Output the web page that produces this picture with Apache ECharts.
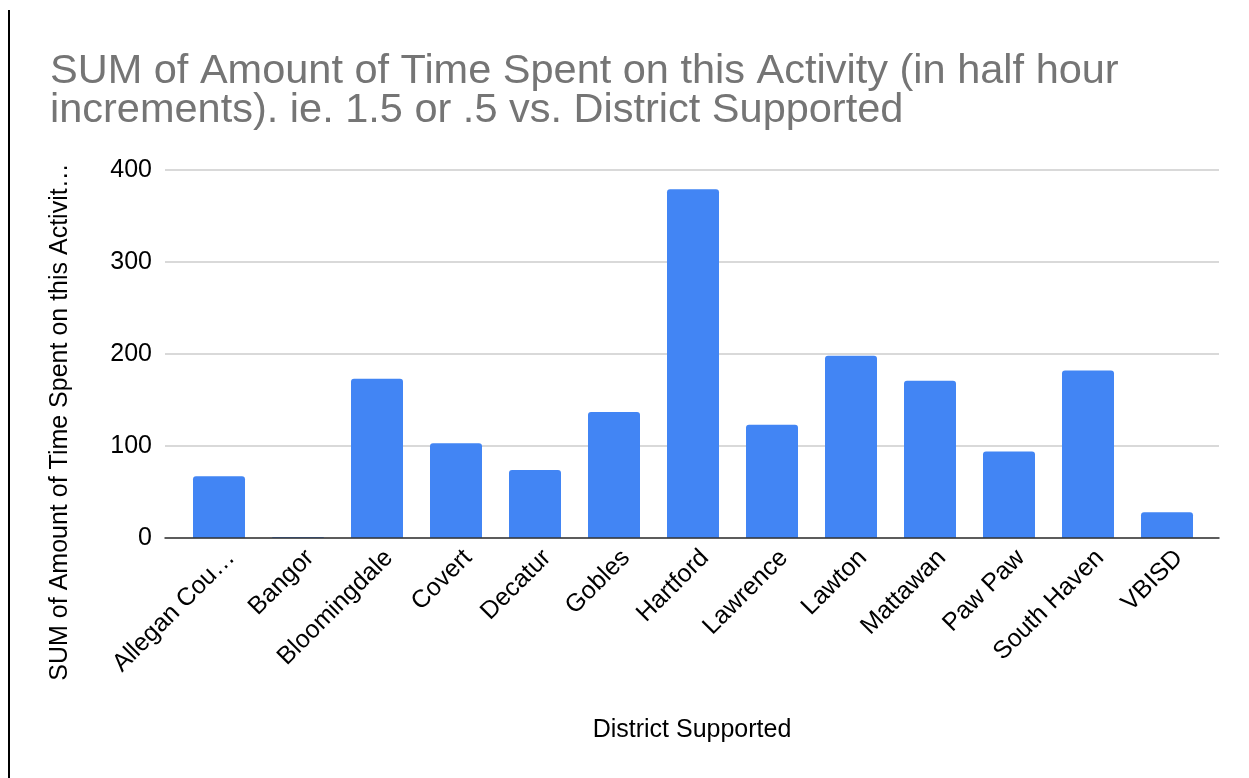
<!DOCTYPE html>
<html>
<head>
<meta charset="utf-8">
<script src="https://cdn.jsdelivr.net/npm/echarts@6/dist/echarts.min.js"></script>
<style>
html,body{margin:0;padding:0;background:#fff;}
#chart{width:1249px;height:778px;}
</style>
</head>
<body>
<div id="chart"></div>
<script>
const categories = ["Allegan Cou…", "Bangor", "Bloomingdale", "Covert", "Decatur", "Gobles", "Hartford", "Lawrence", "Lawton", "Mattawan", "Paw Paw", "South Haven", "VBISD"];
const values = [67, 1, 173, 103, 74, 137, 379, 123, 198, 171, 94, 182, 28];
const yTicks = [0, 100, 200, 300, 400];
const titleText = "SUM of Amount of Time Spent on this Activity (in half hour\nincrements). ie. 1.5 or .5 vs. District Supported";
const yAxisTitle = "SUM of Amount of Time Spent on this Activit…";
const xAxisTitle = "District Supported";

const chart = echarts.init(document.getElementById('chart'), null, {renderer: 'canvas'});
const font = 'Arial, "Liberation Sans", sans-serif';
const yMin = yTicks[0], yMax = yTicks[yTicks.length - 1];
chart.setOption({
  animation: false,
  backgroundColor: '#ffffff',
  title: {
    text: titleText,
    left: 45, top: 47,
    textStyle: {color: '#757575', fontSize: 41.5, fontWeight: 'normal', fontFamily: font, lineHeight: 39}
  },
  grid: [
    {left: 165, right: 30, top: 170, bottom: 240},
    {left: 179.5, right: 42.5, top: 170, bottom: 240},
    {left: 191.5, right: 30.5, top: 170, bottom: 240}
  ],
  xAxis: [
    {
      gridIndex: 0, type: 'category', data: categories,
      name: xAxisTitle, nameLocation: 'middle', nameGap: 180,
      nameTextStyle: {color: '#000', fontSize: 25, fontFamily: font},
      axisLine: {lineStyle: {color: '#333', width: 1.5}}, z: 5,
      axisTick: {show: false}, axisLabel: {show: false}
    },
    {
      gridIndex: 1, type: 'category', data: categories,
      axisLine: {show: false}, axisTick: {show: false}, axisLabel: {show: false}
    },
    {
      gridIndex: 2, type: 'category', data: categories,
      axisLine: {show: false}, axisTick: {show: false},
      axisLabel: {rotate: 45, color: '#000', fontSize: 25, fontFamily: font, margin: 16, interval: 0}
    }
  ],
  yAxis: [
    {
      gridIndex: 0, type: 'value', min: yMin, max: yMax, interval: 100,
      axisLine: {show: false}, axisTick: {show: false},
      splitLine: {lineStyle: {color: '#cccccc', width: 1.5}},
      axisLabel: {color: '#000', fontSize: 25, fontFamily: font, margin: 13}
    },
    {gridIndex: 1, type: 'value', min: yMin, max: yMax, show: false},
    {gridIndex: 2, type: 'value', min: yMin, max: yMax, show: false}
  ],
  graphic: [
    {type: 'line', shape: {x1: 9, y1: 10, x2: 9, y2: 778}, style: {stroke: '#000', lineWidth: 2}},
    {type: 'text', x: 60, y: 422, rotation: Math.PI / 2,
     style: {text: yAxisTitle, fill: '#000', font: '25px ' + font, align: 'center', verticalAlign: 'middle'}}
  ],
  series: [{
    type: 'bar', xAxisIndex: 1, yAxisIndex: 1,
    data: values,
    barWidth: 52,
    itemStyle: {color: '#4285F4', borderRadius: [3, 3, 0, 0]}
  }]
});
</script>
</body>
</html>
